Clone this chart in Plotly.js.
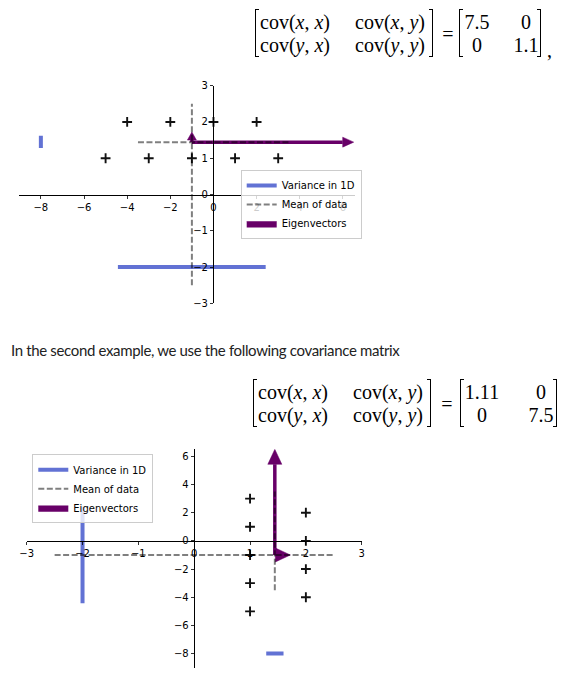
<!DOCTYPE html>
<html>
<head>
<meta charset="utf-8">
<script src="https://cdn.plot.ly/plotly-3.0.1.min.js"></script>
<style>
  html, body { margin:0; padding:0; background:#fff; }
  body { width:566px; height:687px; position:relative; overflow:hidden; }
  #plot { position:absolute; left:0; top:0; width:566px; height:687px; }
  .t { position:absolute; white-space:nowrap; z-index:5; }
  .m { font-family:"Liberation Serif", "DejaVu Serif", serif; font-size:20px; color:#000; line-height:1; transform:translate(0,-50%); }
  .c { transform:translate(-50%,-50%); }
  .br { position:absolute; z-index:5; border:1.1px solid #000; width:4px; box-sizing:border-box; }
  .brl { border-right:none; }
  .brr { border-left:none; }
  .p { font-family:"Lato", "Open Sans", sans-serif; font-size:15px; letter-spacing:-0.35px; color:#222; line-height:20px; }
  i { font-style:italic; }
</style>
</head>
<body>
<div id="plot"></div>

<!-- first covariance matrix -->
<div class="br brl" style="left:255px; top:9px; height:48px;"></div>
<div class="t m" style="left:260px; top:22px;">cov(<i>x</i>, <i>x</i>)</div>
<div class="t m" style="left:355px; top:22px;">cov(<i>x</i>, <i>y</i>)</div>
<div class="t m" style="left:260px; top:45px;">cov(<i>y</i>, <i>x</i>)</div>
<div class="t m" style="left:355px; top:45px;">cov(<i>y</i>, <i>y</i>)</div>
<div class="br brr" style="left:429px; top:9px; height:48px;"></div>
<div class="t m c" style="left:448px; top:34px;">=</div>
<div class="br brl" style="left:459px; top:9px; height:48px;"></div>
<div class="t m c" style="left:477px; top:22px;">7.5</div>
<div class="t m c" style="left:526px; top:22px;">0</div>
<div class="t m c" style="left:477px; top:45px;">0</div>
<div class="t m c" style="left:526px; top:45px;">1.1</div>
<div class="br brr" style="left:537px; top:9px; height:48px;"></div>
<div class="t m" style="left:547px; top:50px;">,</div>

<div class="t p" style="left:11px; top:340px;">In the second example, we use the following covariance matrix</div>

<!-- second covariance matrix -->
<div class="br brl" style="left:253px; top:379px; height:48px;"></div>
<div class="t m" style="left:258px; top:392px;">cov(<i>x</i>, <i>x</i>)</div>
<div class="t m" style="left:353px; top:392px;">cov(<i>x</i>, <i>y</i>)</div>
<div class="t m" style="left:258px; top:415px;">cov(<i>y</i>, <i>x</i>)</div>
<div class="t m" style="left:353px; top:415px;">cov(<i>y</i>, <i>y</i>)</div>
<div class="br brr" style="left:427px; top:379px; height:48px;"></div>
<div class="t m c" style="left:447px; top:404px;">=</div>
<div class="br brl" style="left:460px; top:379px; height:48px;"></div>
<div class="t m c" style="left:482px; top:392px;">1.11</div>
<div class="t m c" style="left:541px; top:392px;">0</div>
<div class="t m c" style="left:482px; top:415px;">0</div>
<div class="t m c" style="left:541px; top:415px;">7.5</div>
<div class="br brr" style="left:553px; top:379px; height:48px;"></div>

<script>
// ---------------- data: first example ----------------
const pts1X = [-4, -2, 0, 2, -5, -3, -1, 1, 3];
const pts1Y = [2, 2, 2, 2, 1, 1, 1, 1, 1];
const mean1 = [-1, 1.444];
const meanLineX1 = [-3.5, 3.5];   // horizontal mean line extent
const meanLineY1 = [-2.5, 2.5];   // vertical mean line extent
const varX1 = [-4.43, 2.42];      // variance along x, drawn at y = varXAt1
const varXAt1 = -2;
const varY1 = [1.28, 1.62];       // variance along y, drawn at x = varYAt1
const varYAt1 = -8;
const eig1 = [[7.5, 0], [0, 0.278]];
const xTicks1 = [-8, -6, -4, -2, 0, 2, 4, 6];
const yTicks1 = [-3, -2, -1, 0, 1, 2, 3];

// ---------------- data: second example ----------------
const pts2X = [1, 1, 1, 1, 1, 2, 2, 2, 2];
const pts2Y = [3, 1, -1, -3, -5, 2, 0, -2, -4];
const mean2 = [1.444, -1];
const meanLineX2 = [-2.5, 2.5];
const meanLineY2 = [-3.5, 3.5];
const varX2 = [1.29, 1.60];
const varXAt2 = -8;
const varY2 = [-4.43, 2.43];
const varYAt2 = -2;
const eig2 = [[0.278, 0], [0, 7.5]];
const xTicks2 = [-3, -2, -1, 0, 1, 2, 3];
const yTicks2 = [-8, -6, -4, -2, 0, 2, 4, 6];

const legendNames = ['Variance in 1D', 'Mean of data', 'Eigenvectors'];

// ---------------- styling / layout ----------------
const W = 566, H = 687;
const BLUE = '#6272d4', PURPLE = '#680068', DASH = 'rgba(0,0,0,0.5)';
const panels = [
  { px: [19.3, 355], py: [85.7, 303.3], xr: [-9.0, 6.56], yr: [-3, 3],
    head: [[11, 10], [8, 9]] },
  { px: [26.7, 361.7], py: [449.3, 667.7], xr: [-3, 3], yr: [-9, 6.5],
    head: [[15, 14], [15, 14]] }
];

function arrow(x0, y0, dx, dy, hl, hw, sx, sy) {
  const lenPx = Math.hypot(dx * sx, dy * sy);
  const ux = dx * sx / lenPx, uy = dy * sy / lenPx;
  const L = Math.min(hl, lenPx);
  const tx = x0 + dx, ty = y0 + dy;
  const bx = tx - ux * L / sx, by = ty - uy * L / sy;
  const ox = -uy * hw / 2 / sx, oy = ux * hw / 2 / sy;
  return { shaft: { x: [x0, bx], y: [y0, by] },
           head: { x: [bx + ox, tx, bx - ox, bx + ox], y: [by + oy, ty, by - oy, by + oy] } };
}

function buildPanel(i, d) {
  const p = panels[i];
  const xa = i === 0 ? 'x' : 'x2', ya = i === 0 ? 'y' : 'y2';
  const lg = i === 0 ? 'legend' : 'legend2';
  const sx = (p.px[1] - p.px[0]) / (p.xr[1] - p.xr[0]);
  const sy = (p.py[1] - p.py[0]) / (p.yr[1] - p.yr[0]);
  const tr = [];
  tr.push({ x: d.ptsX, y: d.ptsY, xaxis: xa, yaxis: ya, mode: 'markers', showlegend: false,
            marker: { symbol: 'cross-thin', size: 7, color: '#111', line: { color: '#111', width: 1.9 } } });
  tr.push({ x: d.varX, y: [d.varXAt, d.varXAt], xaxis: xa, yaxis: ya, mode: 'lines', legend: lg,
            name: legendNames[0], legendrank: 1, showlegend: true, line: { color: BLUE, width: 4 } });
  tr.push({ x: [d.varYAt, d.varYAt], y: d.varY, xaxis: xa, yaxis: ya, mode: 'lines', showlegend: false,
            line: { color: BLUE, width: 4 } });
  d.eig.forEach((v, k) => {
    const a = arrow(d.mean[0], d.mean[1], v[0], v[1], p.head[k][0], p.head[k][1], sx, sy);
    tr.push({ x: a.shaft.x, y: a.shaft.y, xaxis: xa, yaxis: ya, mode: 'lines', showlegend: false,
              line: { color: PURPLE, width: 3.5 } });
    tr.push({ x: a.head.x, y: a.head.y, xaxis: xa, yaxis: ya, mode: 'lines', fill: 'toself',
              fillcolor: PURPLE, line: { color: PURPLE, width: 0.5 }, legend: lg,
              name: legendNames[2], legendrank: 3, showlegend: k === 0 });
  });
  tr.push({ x: d.meanLineX, y: [d.mean[1], d.mean[1]], xaxis: xa, yaxis: ya, mode: 'lines', legend: lg,
            name: legendNames[1], legendrank: 2, showlegend: true,
            line: { color: DASH, width: 2, dash: '6px,2.5px' } });
  tr.push({ x: [d.mean[0], d.mean[0]], y: d.meanLineY, xaxis: xa, yaxis: ya, mode: 'lines', showlegend: false,
            line: { color: DASH, width: 2, dash: '6px,2.5px' } });
  // axes crossing at zero
  const x0px = p.px[0] + (0 - p.xr[0]) * sx;
  const y0px = p.py[1] - (0 - p.yr[0]) * sy;
  const tickFont = { family: 'DejaVu Sans', size: 10, color: '#000' };
  const xaxis = { domain: [p.px[0] / W, p.px[1] / W], range: p.xr, anchor: 'free', position: 1 - y0px / H,
                  showgrid: false, zeroline: false, showline: true, linecolor: '#000', linewidth: 1,
                  ticks: 'outside', ticklen: 3.5, tickwidth: 0.8, tickcolor: '#000',
                  tickmode: 'array', tickvals: d.xTicks, tickfont: tickFont };
  const yaxis = { domain: [1 - p.py[1] / H, 1 - p.py[0] / H], range: p.yr, anchor: 'free', position: x0px / W,
                  showgrid: false, zeroline: false, showline: true, linecolor: '#000', linewidth: 1,
                  ticks: 'outside', ticklen: 3.5, tickwidth: 0.8, tickcolor: '#000',
                  tickmode: 'array', tickvals: d.yTicks, tickfont: tickFont };
  return { traces: tr, xaxis, yaxis };
}

const P1 = buildPanel(0, { ptsX: pts1X, ptsY: pts1Y, mean: mean1, meanLineX: meanLineX1, meanLineY: meanLineY1,
  varX: varX1, varXAt: varXAt1, varY: varY1, varYAt: varYAt1, eig: eig1, xTicks: xTicks1, yTicks: yTicks1 });
const P2 = buildPanel(1, { ptsX: pts2X, ptsY: pts2Y, mean: mean2, meanLineX: meanLineX2, meanLineY: meanLineY2,
  varX: varX2, varXAt: varXAt2, varY: varY2, varYAt: varYAt2, eig: eig2, xTicks: xTicks2, yTicks: yTicks2 });

const legendStyle = { bgcolor: 'rgba(255,255,255,0.8)', bordercolor: '#cccccc', borderwidth: 1,
  font: { family: 'DejaVu Sans', size: 10, color: '#000' }, xanchor: 'left', yanchor: 'top',
  tracegroupgap: 0, itemwidth: 30 };

const layout = {
  width: W, height: H, margin: { l: 0, r: 0, t: 0, b: 0 },
  paper_bgcolor: 'rgba(0,0,0,0)', plot_bgcolor: 'rgba(0,0,0,0)',
  xaxis: P1.xaxis, yaxis: P1.yaxis, xaxis2: P2.xaxis, yaxis2: P2.yaxis,
  legend: Object.assign({}, legendStyle, { x: 240.7 / W, y: 1 - 170 / H }),
  legend2: Object.assign({}, legendStyle, { x: 32.3 / W, y: 1 - 454.3 / H }),
  showlegend: true
};

Plotly.newPlot('plot', P1.traces.concat(P2.traces), layout, { staticPlot: true, displayModeBar: false });
</script>
</body>
</html>
